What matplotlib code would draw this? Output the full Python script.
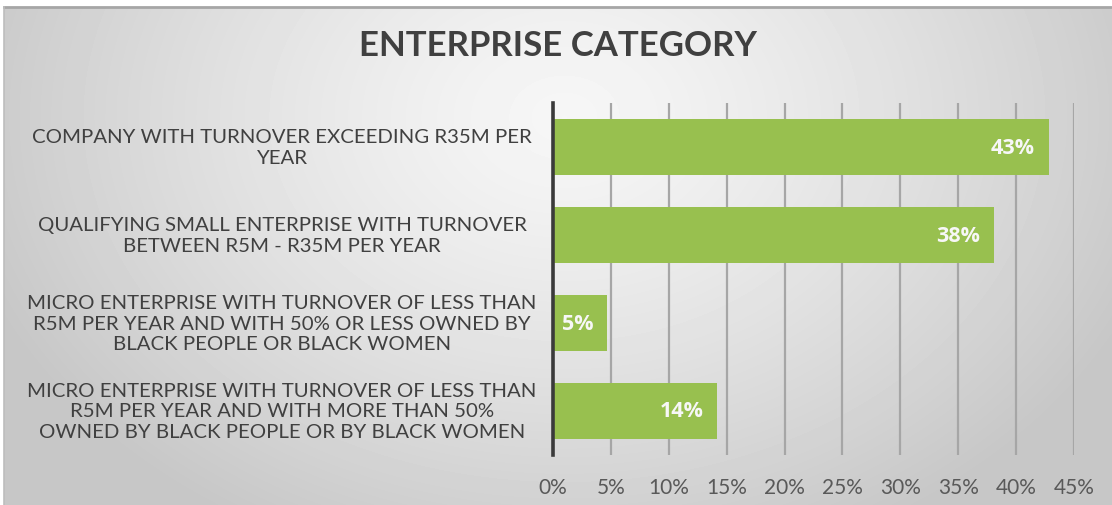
import numpy as np
import matplotlib.pyplot as plt
from matplotlib.lines import Line2D

# enterprise categories, top to bottom
categories = [
    "COMPANY WITH TURNOVER EXCEEDING R35M PER\nYEAR",
    "QUALIFYING SMALL ENTERPRISE WITH TURNOVER\nBETWEEN R5M - R35M PER YEAR",
    "MICRO ENTERPRISE WITH TURNOVER OF LESS THAN\nR5M PER YEAR AND WITH 50% OR LESS OWNED BY\nBLACK PEOPLE OR BLACK WOMEN",
    "MICRO ENTERPRISE WITH TURNOVER OF LESS THAN\nR5M PER YEAR AND WITH MORE THAN 50%\nOWNED BY BLACK PEOPLE OR BY BLACK WOMEN",
]
shares = [0.428, 0.381, 0.047, 0.142]
x_ticks = [0, 0.05, 0.10, 0.15, 0.20, 0.25, 0.30, 0.35, 0.40, 0.45]

FONT = "Lato"
W, H = 1112, 506
fig = plt.figure(figsize=(W / 100, H / 100), dpi=100)
fig.patch.set_facecolor("white")

# caption above the chart frame (only its descenders show)
fig.text(8 / W, 1 + 4 / H, "Figure 6: Enterprise Category", fontsize=18,
         style="italic", color="#2f5d5a", family=FONT, va="baseline")

# chart frame with a soft radial grey gradient
x0, y0 = 4, 8
bg = fig.add_axes([x0 / W, 0, 1 - x0 / W, (H - y0) / H])
yy, xx = np.mgrid[0:H - y0, 0:W - x0]
t = np.sqrt(((xx - 560) / 620.0) ** 2 + ((yy - 110) / 470.0) ** 2)
t = np.clip(t, 0, 1) ** 1.3
shade = 0.965 - (0.965 - 0.78) * t
bg.imshow(shade, cmap="gray", vmin=0, vmax=1, aspect="auto",
          interpolation="bilinear")
bg.set_axis_off()
fig.add_artist(Line2D([x0 / W, 1], [1 - y0 / H, 1 - y0 / H],
                      transform=fig.transFigure, color="#a6a6a6", lw=2))
fig.add_artist(Line2D([x0 / W, x0 / W], [0, 1 - y0 / H],
                      transform=fig.transFigure, color="#bdbdbd", lw=1.2))

fig.text(558 / W, 1 - 46 / H, "ENTERPRISE CATEGORY", ha="center", va="center",
         fontsize=25, weight="bold", color="#404040", family=FONT)

# plotting area
left, right, top, bottom = 553, 1074, 104, 456
ax = fig.add_axes([left / W, 1 - bottom / H, (right - left) / W, (bottom - top) / H])
ax.patch.set_alpha(0)

pos = np.arange(len(shares))
bars = ax.barh(pos, shares, height=0.63, color="#98c04f", zorder=3)
ax.set_ylim(len(shares) - 0.5, -0.5)
ax.set_xlim(0, 0.45)

ax.set_xticks(x_ticks)
ax.set_xticklabels([f"{v:.0%}" for v in x_ticks], fontsize=15,
                   color="#595959", family=FONT)
ax.tick_params(axis="x", length=0, pad=16)
ax.set_yticks([])
ax.xaxis.grid(True, color="#a6a6a6", lw=1.6)
ax.set_axisbelow(True)
for s in ["top", "right", "bottom"]:
    ax.spines[s].set_visible(False)
ax.spines["left"].set_color("#3a3a3a")
ax.spines["left"].set_linewidth(2.6)
ax.spines["left"].set_zorder(4)

# category names, centred to the left of the axis
for i, cat in enumerate(categories):
    ax.text(-0.52, i, cat, transform=ax.get_yaxis_transform(), ha="center",
            va="center", multialignment="center", fontsize=14.7,
            color="#404040", family=FONT, linespacing=1.22)

# value labels inside the bar ends
for b, v in zip(bars, shares):
    ax.annotate(f"{v:.0%}", (v, b.get_y() + b.get_height() / 2),
                xytext=(-10, 0), textcoords="offset points", ha="right",
                va="center", fontsize=15.5, weight="bold", color="#f7f7f7",
                family="Open Sans", zorder=5)

fig.savefig("out.png", dpi=100)
